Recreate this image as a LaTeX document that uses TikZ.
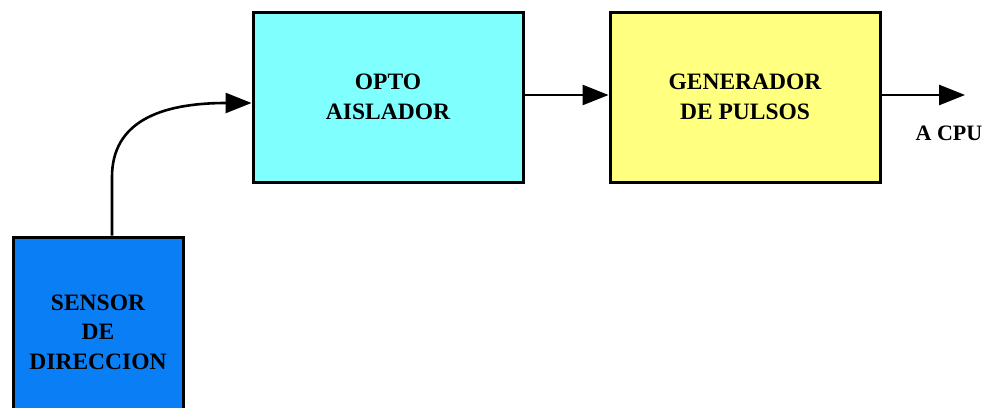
\documentclass[tikz,border=0pt]{standalone}
\usepackage{fontspec}
\setmainfont{Liberation Serif}
\usetikzlibrary{arrows.meta}
\definecolor{sensorblue}{HTML}{0A7FF5}
\definecolor{optocyan}{HTML}{80FFFF}
\definecolor{genyellow}{HTML}{FFFF80}
\begin{document}
\begin{tikzpicture}[x=1pt,y=-1pt,
  block/.style={draw=black, line width=3pt, align=center, inner sep=0pt,
    font=\bfseries\fontsize{23.5}{29.5}\selectfont},
  link/.style={line width=2.6pt, -{Triangle[length=26pt,width=20pt]}},
  lbl/.style={font=\bfseries\fontsize{22}{24}\selectfont, inner sep=0pt}]
  \path[use as bounding box] (0,0) rectangle (993,407);
  \clip (0,0) rectangle (993,407);
  % processing blocks
  \node[block, fill=optocyan, minimum width=270pt, minimum height=170pt]
    (opto) at (388,97) {OPTO\\AISLADOR};
  \node[block, fill=genyellow, minimum width=270pt, minimum height=170pt]
    (gen) at (745,97) {GENERADOR\\DE PULSOS};
  % sensor block, running off the lower edge
  \node[block, fill=sensorblue, minimum width=170pt, minimum height=190pt]
    (sensor) at (98,332) {SENSOR\\DE\\DIRECCION};
  % output end and label
  \coordinate (out) at (965,95);
  \node[lbl] (cpu) at (949,133) {A CPU};
  % connectors
  \draw[link] (sensor.north -| 112,0) -- (112,177)
    .. controls (112,122) and (160,103) .. (opto.west |- 0,103);
  \draw[link] (opto.east |- 0,95) -- (gen.west |- 0,95);
  \draw[link] (gen.east |- 0,95) -- (out);
\end{tikzpicture}
\end{document}
